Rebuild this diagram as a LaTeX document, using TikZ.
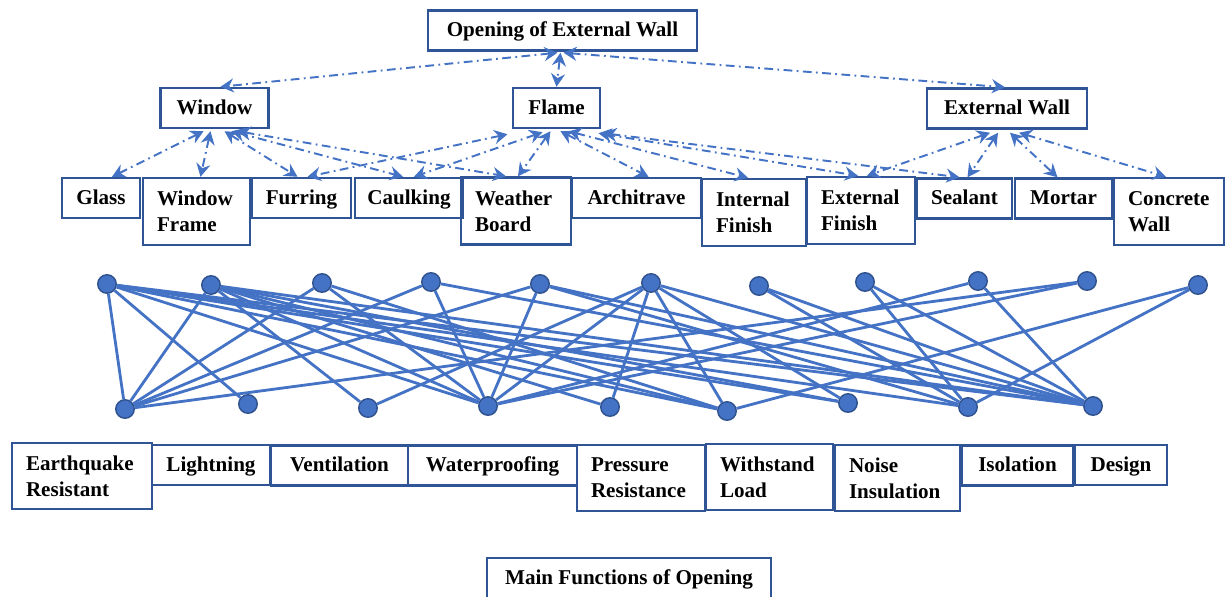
\documentclass[tikz,border=0pt]{standalone}
\usepackage{fontspec}
\setmainfont{Liberation Serif}
\usetikzlibrary{arrows.meta,calc}
\definecolor{boxblue}{HTML}{2F5597}
\definecolor{linkblue}{HTML}{4472C4}
\definecolor{dotrim}{HTML}{2F528F}

\begin{document}
\begin{tikzpicture}[x=0.02cm,y=-0.02cm,
  boxline/.style={draw=boxblue,line width=1.4pt,font=\fontsize{12}{15}\selectfont\bfseries,inner sep=0pt},
  part/.style={boxline,minimum height=0.8cm,text height=8.5pt,text depth=1.5pt},
  twoline/.style={boxline,align=left,inner xsep=0.28cm,minimum height=1.34cm},
  dot/.style={circle,fill=linkblue,draw=dotrim,line width=0.8pt,inner sep=0pt,minimum size=0.37cm},
  mesh/.style={linkblue,line width=1.6pt},
  link/.style={linkblue,line width=1.1pt,dash pattern=on 5pt off 2.5pt on 1pt off 2.5pt,>={Stealth[length=7.5pt,width=8pt,inset=2.5pt]},<->}]
  \path[use as bounding box,fill=white] (0,0) rectangle (1225,596);

  \node[part,minimum width=5.38cm] (open) at (562.5,30.5) {Opening of External Wall};
  \node[part,minimum width=2.16cm] (win) at (214.5,108) {Window};
  \node[part,minimum width=1.74cm] (flame) at (556.5,108) {Flame};
  \node[part,minimum width=3.2cm] (extw) at (1007,108.5) {External Wall};

  \node[part,minimum width=1.56cm] (glass) at (101,198) {Glass};
  \node[twoline,text width=1.58cm,minimum width=2.14cm] (wframe) at (196.5,211.5) {Window\\Frame};
  \node[part,minimum width=1.98cm] (furring) at (301.5,198) {Furring};
  \node[part,minimum width=2.16cm] (caulk) at (409,198) {Caulking};
  \node[twoline,text width=1.64cm,minimum width=2.2cm] (wboard) at (516,211) {Weather\\Board};
  \node[part,minimum width=2.58cm] (archi) at (636.5,198) {Architrave};
  \node[twoline,text width=1.52cm,minimum width=2.08cm] (infin) at (754,212.5) {Internal\\Finish};
  \node[twoline,text width=1.6cm,minimum width=2.16cm] (exfin) at (861,210.5) {External\\Finish};
  \node[part,minimum width=1.9cm] (seal) at (964.5,198.5) {Sealant};
  \node[part,minimum width=1.94cm] (mortar) at (1063.5,198.5) {Mortar};
  \node[twoline,text width=1.64cm,minimum width=2.2cm] (cwall) at (1169,211.5) {Concrete\\Wall};

  \draw[link] ($(open.south)+(-5,1)$) -- ($(win.north)+(6,0)$);
  \draw[link] ($(open.south)+(-2,1)$) -- (flame.north);
  \draw[link] ($(open.south)+(1,1)$) -- ($(extw.north)+(-2,0)$);

  \draw[link] ($(win.south)+(-11,2)$) -- ($(glass.north)+(11,0)$);
  \draw[link] ($(win.south)+(-4,2)$) -- ($(wframe.north)+(4,0)$);
  \draw[link] ($(win.south)+(10,2)$) -- ($(furring.north)+(-4,0)$);
  \draw[link] ($(win.south)+(17,2)$) -- ($(caulk.north)+(-6,0)$);
  \draw[link] ($(win.south)+(23,2)$) -- ($(wboard.north)+(-10,0)$);

  \draw[link] ($(flame.south)+(-49,5)$) -- ($(furring.north)+(6,0)$);
  \draw[link] ($(flame.south)+(-14,3)$) -- ($(caulk.north)+(5,0)$);
  \draw[link] ($(flame.south)+(-6,2)$) -- ($(wboard.north)+(2,0)$);
  \draw[link] ($(flame.south)+(4,2)$) -- ($(archi.north)+(12,0)$);
  \draw[link] ($(flame.south)+(12,2)$) -- ($(infin.north)+(-6,0)$);
  \draw[link] ($(flame.south)+(42,4)$) -- ($(exfin.north)+(-3,0)$);
  \draw[link] ($(flame.south)+(47,4)$) -- ($(seal.north)+(-5,0)$);

  \draw[link] ($(extw.south)+(-17,3)$) -- ($(exfin.north)+(6,0)$);
  \draw[link] ($(extw.south)+(-9,3)$) -- ($(seal.north)+(3,0)$);
  \draw[link] ($(extw.south)+(3,3)$) -- ($(mortar.north)+(-6,0)$);
  \draw[link] ($(extw.south)+(12,3)$) -- ($(cwall.north)+(-3,0)$);

  \foreach \n/\x/\y in {1/107/284,2/211/285,3/322/283,4/431/282,5/540/284,6/651/283,7/759/286,8/865/282,9/978/281,10/1087/281,11/1198/285}
    \node[dot] (t\n) at (\x,\y) {};
  \foreach \n/\x/\y in {1/125/409,2/248/404,3/368/408,4/488/406,5/610/407,6/727/411,7/848/403,8/968/407,9/1093/406}
    \node[dot] (b\n) at (\x,\y) {};
  \foreach \t/\b in {1/1,1/2,1/4,1/6,1/7,1/8,1/9,2/1,2/3,2/4,2/5,2/6,2/7,2/9,3/1,3/4,3/6,4/1,4/4,4/9,5/1,5/4,5/8,5/9,6/3,6/4,6/5,6/6,6/7,6/9,7/8,7/9,8/8,8/9,9/4,9/9,10/1,10/4,11/6,11/8}
    \draw[mesh] (t\t) -- (b\b);

  \node[twoline,text width=2.24cm,minimum width=2.8cm,minimum height=1.32cm] (quake) at (82,476) {Earthquake\\Resistant};
  \node[part,minimum width=2.36cm] (light) at (211,465) {Lightning};
  \node[part,minimum width=2.74cm] (vent) at (339.5,465.5) {Ventilation};
  \node[part,minimum width=3.38cm] (water) at (492.5,465.5) {Waterproofing};
  \node[twoline,text width=2cm,minimum width=2.56cm,minimum height=1.32cm] (press) at (641,478) {Pressure\\Resistance};
  \node[twoline,text width=1.98cm,minimum width=2.54cm,minimum height=1.32cm] (wload) at (769.5,477) {Withstand\\Load};
  \node[twoline,text width=1.94cm,minimum width=2.5cm,minimum height=1.32cm] (noise) at (897.5,478) {Noise\\Insulation};
  \node[part,minimum width=2.22cm] (isol) at (1017.5,465.5) {Isolation};
  \node[part,minimum width=1.84cm] (design) at (1121,465) {Design};

  \node[part,minimum width=5.68cm] (mainf) at (629,578) {Main Functions of Opening};
\end{tikzpicture}
\end{document}
